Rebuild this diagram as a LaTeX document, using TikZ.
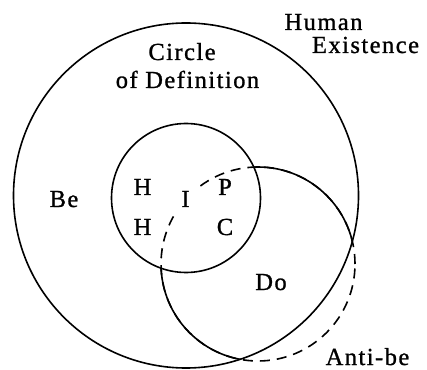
\documentclass[tikz,border=0pt]{standalone}
\usepackage{fontspec}
\setmainfont{Liberation Serif}[LetterSpace=6,FakeBold=1]
\begin{document}
\begin{tikzpicture}[x=1pt,y=1pt,
  ring/.style={line width=1.6pt},
  dashring/.style={line width=1.6pt, dash pattern=on 10pt off 7pt},
  lbl/.style={font=\fontsize{24.5}{28}\selectfont, inner sep=0pt, anchor=base}]
\useasboundingbox (0,0) rectangle (427,369);
\fill[white] (0,0) rectangle (427,369);
\coordinate (oc) at (186,173.5);
\coordinate (ic) at (186,171);
\coordinate (dc) at (258,105);
% outer circle: Human Existence
\draw[ring] (oc) circle[radius=172.5];
% inner circle: Circle of Definition
\draw[ring] (ic) circle[radius=74.5];
% Do circle, dashed where outside the annulus
\draw[dashring] (dc) circle[radius=97];
\begin{scope}
  \clip (358.5,173.5) arc[start angle=0,end angle=360,radius=172.5]
        (260.5,171) arc[start angle=0,end angle=-360,radius=74.5];
  \draw[ring] (dc) circle[radius=97];
\end{scope}
% labels
\node[lbl] (human) at (323.5,339) {Human};
\node[lbl] (exist) at (365.5,316) {Existence};
\node[lbl] (circ) at (182,309) {Circle};
\node[lbl] (def) at (187.5,281) {of Definition};
\node[lbl] (be) at (64,162) {Be};
\node[lbl] (h1) at (142.5,174) {H};
\node[lbl] (h2) at (142.5,134) {H};
\node[lbl, fill=white, inner xsep=10pt, inner ysep=9pt] (i) at (185.5,162) {I};
\node[lbl] (p) at (225,174) {P};
\node[lbl] (c) at (225,134) {C};
\node[lbl] (do) at (271,79) {Do};
\node[lbl] (anti) at (367.5,4) {Anti-be};
\end{tikzpicture}
\end{document}
